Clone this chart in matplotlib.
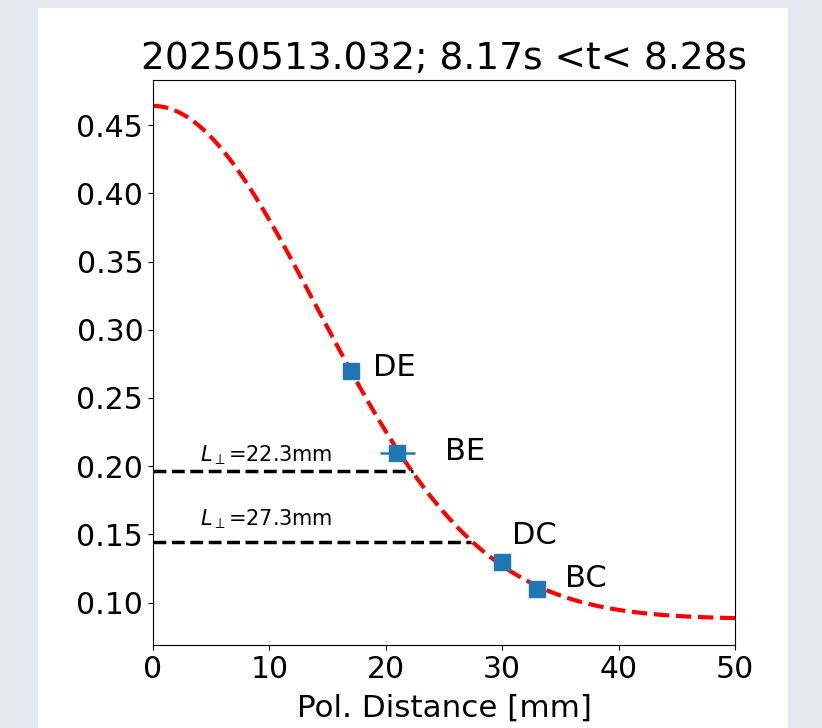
import numpy as np
import matplotlib.pyplot as plt
from matplotlib.patches import Rectangle

# measured points (probe positions)
probe_names = ["DE", "BE", "DC", "BC"]
probe_x = [17.0, 21.0, 30.0, 33.0]
probe_y = [0.270, 0.210, 0.130, 0.110]
probe_xerr = [0.0, 1.5, 0.0, 0.0]
label_x = [18.9, 25.1, 30.8, 35.4]
label_y = [0.272, 0.211, 0.149, 0.118]

# gaussian fit parameters: offset + amp * exp(-x^2 / (2 w^2))
fit_amp = 0.376
fit_width = 14.1
fit_offset = 0.088

# decay-length markers
lperp_values = [22.3, 27.3]
lperp_levels = [0.1966, 0.1447]
lperp_text_y = [0.208, 0.161]

fig = plt.figure(figsize=(8.22, 7.28), dpi=100, facecolor="#e5e9ef")
fig.patches.append(Rectangle((0.0462, 0.0), 0.9124, 0.989, transform=fig.transFigure,
                             facecolor="white", edgecolor="none", zorder=-10))
ax = fig.add_axes([0.1861, 0.1140, 0.7081, 0.7761])

xs = np.linspace(0, 50, 400)
fit = fit_offset + fit_amp * np.exp(-xs**2 / (2 * fit_width**2))
ax.plot(xs, fit, "r--", lw=3)

for L, lev, ty in zip(lperp_values, lperp_levels, lperp_text_y):
    ax.plot([0, L], [lev, lev], "k--", lw=2.5)
    ax.text(4.0, ty, r"$L_\perp$=%.1fmm" % L, fontsize=15, va="center")

ax.errorbar(probe_x, probe_y, xerr=probe_xerr, fmt="s", color="#1f77b4",
            ms=11, elinewidth=1.8, capsize=0, zorder=5)
for name, lx, ly in zip(probe_names, label_x, label_y):
    ax.text(lx, ly, name, fontsize=22, va="center")

ax.set_xlim(0, 50)
ax.set_ylim(0.069, 0.483)
ax.set_yticks([0.10, 0.15, 0.20, 0.25, 0.30, 0.35, 0.40, 0.45])
ax.tick_params(labelsize=21.5)
ax.set_xlabel("Pol. Distance [mm]", fontsize=22.3, labelpad=7)
ax.set_title("20250513.032; 8.17s <t< 8.28s", fontsize=27, pad=8)

fig.savefig("out.png", dpi=100, facecolor=fig.get_facecolor())
